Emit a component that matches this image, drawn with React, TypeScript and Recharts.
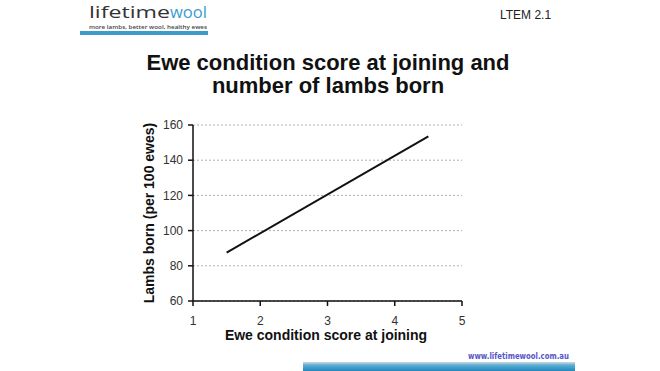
import { LineChart, Line, XAxis, YAxis, CartesianGrid, Label } from "recharts";

/* ─── Data ───────────────────────────────────────────────────────────────── */
const conditionScore = [1.5, 4.5];
const lambsBorn = [87.5, 153.5];
const xTicks = [1, 2, 3, 4, 5];
const yTicks = [60, 80, 100, 120, 140, 160];

const data = conditionScore.map((x, i) => ({ x, lambs: lambsBorn[i] }));

const sans = "'Liberation Sans', Arial, Helvetica, sans-serif";
const axisTick = { fontFamily: sans, fontSize: 12, fill: "#333" };

export default function App() {
  return (
    <div style={{ position: "absolute", left: 0, top: 0, width: 660, height: 371, background: "#fff", overflow: "hidden" }}>
      <LineChart
        width={660}
        height={371}
        data={data}
        margin={{ top: 125, right: 198, left: 0, bottom: 0 }}
      >
        <CartesianGrid horizontal vertical={false} stroke="#b0b0b0" strokeDasharray="2 2" />
        <XAxis
          type="number"
          dataKey="x"
          domain={[1, 5]}
          ticks={xTicks}
          height={70}
          tick={axisTick}
          tickSize={5}
          tickMargin={10}
          axisLine={{ stroke: "#111", strokeWidth: 1.5 }}
          tickLine={{ stroke: "#111", strokeWidth: 1.5 }}
        >
          <Label
            content={() => (
              <text x={326} y={340} textAnchor="middle" fontFamily={sans} fontSize={14} fontWeight={700} fill="#111">
                Ewe condition score at joining
              </text>
            )}
          />
        </XAxis>
        <YAxis
          type="number"
          domain={[60, 160]}
          ticks={yTicks}
          width={193}
          tick={axisTick}
          tickSize={5}
          tickMargin={5}
          axisLine={{ stroke: "#111", strokeWidth: 1.5 }}
          tickLine={{ stroke: "#111", strokeWidth: 1.5 }}
        >
          <Label
            content={() => (
              <text
                x={154}
                y={213}
                transform="rotate(-90 154 213)"
                textAnchor="middle"
                fontFamily={sans}
                fontSize={14}
                fontWeight={700}
                fill="#111"
              >
                Lambs born (per 100 ewes)
              </text>
            )}
          />
        </YAxis>
        <Line
          type="linear"
          dataKey="lambs"
          stroke="#111"
          strokeWidth={2}
          dot={false}
          isAnimationActive={false}
        />
      </LineChart>

      {/* Slide decoration: logo, code, title, footer */}
      <svg width={660} height={371} style={{ position: "absolute", left: 0, top: 0, pointerEvents: "none" }}>
        <defs>
          <linearGradient id="barGrad" x1="0" y1="0" x2="0" y2="1">
            <stop offset="0%" stopColor="#d4dadd" />
            <stop offset="35%" stopColor="#5aaed6" />
            <stop offset="100%" stopColor="#2487b8" />
          </linearGradient>
        </defs>

        <text x={89} y={18} fontFamily="'Open Sans', sans-serif" fontSize={17} fill="#333" textLength={81} lengthAdjust="spacingAndGlyphs">
          lifetime
        </text>
        <text x={170} y={18} fontFamily="'Open Sans', sans-serif" fontSize={17} fill="#3a9bd0" textLength={37} lengthAdjust="spacingAndGlyphs">
          wool
        </text>
        <text x={89} y={28.5} fontFamily="'Open Sans', sans-serif" fontSize={6} fontWeight={600} fill="#444" textLength={118} lengthAdjust="spacingAndGlyphs">
          more lambs, better wool, healthy ewes
        </text>
        <rect x={80} y={31} width={128} height={4} fill="#3d9ccb" />

        <text x={500} y={19} fontFamily={sans} fontSize={12} fill="#222">LTEM 2.1</text>

        <text x={328} y={70} textAnchor="middle" fontFamily={sans} fontSize={22} fontWeight={700} fill="#111">
          Ewe condition score at joining and
        </text>
        <text x={328} y={93} textAnchor="middle" fontFamily={sans} fontSize={22} fontWeight={700} fill="#111">
          number of lambs born
        </text>

        <text x={468} y={359} fontFamily="'DejaVu Sans', sans-serif" fontSize={8} fontWeight={700} fill="#5656c8" textLength={101} lengthAdjust="spacingAndGlyphs">
          www.lifetimewool.com.au
        </text>
        <rect x={303} y={362} width={272} height={9} fill="url(#barGrad)" />
      </svg>
    </div>
  );
}
